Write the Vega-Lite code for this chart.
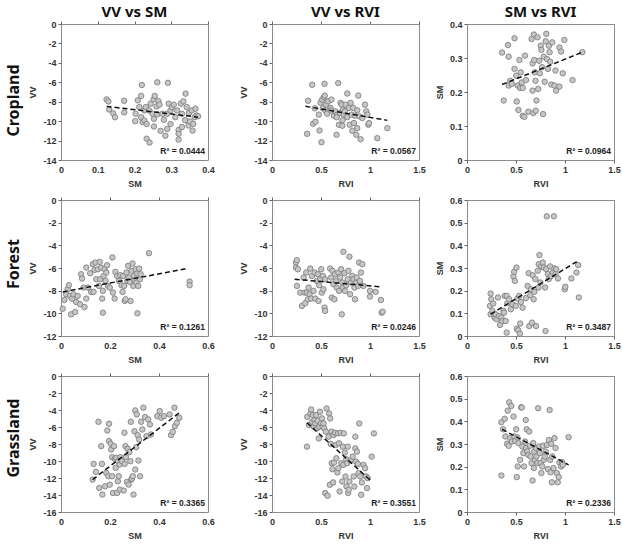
{
  "$schema": "https://vega.github.io/schema/vega-lite/v6.json",
  "background": "white",
  "padding": {"left": 6, "top": 4, "right": 2, "bottom": 1},
  "datasets": {
    "c_vs": [
      {"sm":0.124,"vv":-7.76},{"sm":0.129,"vv":-7.97},{"sm":0.131,"vv":-8.8},{"sm":0.142,"vv":-9.2},{"sm":0.147,"vv":-9.6},
      {"sm":0.172,"vv":-7.9},{"sm":0.172,"vv":-9.1},{"sm":0.202,"vv":-10.0},{"sm":0.203,"vv":-9.24},{"sm":0.209,"vv":-7.86},
      {"sm":0.213,"vv":-8.55},{"sm":0.218,"vv":-7.4},{"sm":0.22,"vv":-6.28},{"sm":0.218,"vv":-9.6},{"sm":0.222,"vv":-10.1},
      {"sm":0.227,"vv":-9.93},{"sm":0.227,"vv":-8.9},{"sm":0.231,"vv":-8.55},{"sm":0.233,"vv":-10.3},{"sm":0.233,"vv":-11.8},
      {"sm":0.241,"vv":-12.2},{"sm":0.24,"vv":-8.9},{"sm":0.244,"vv":-8.2},{"sm":0.249,"vv":-9.24},{"sm":0.252,"vv":-7.76},
      {"sm":0.253,"vv":-9.76},{"sm":0.253,"vv":-10.55},{"sm":0.255,"vv":-7.4},{"sm":0.26,"vv":-8.48},{"sm":0.262,"vv":-9.3},
      {"sm":0.265,"vv":-7.93},{"sm":0.262,"vv":-6.0},{"sm":0.268,"vv":-8.3},{"sm":0.271,"vv":-11.0},{"sm":0.276,"vv":-9.24},
      {"sm":0.28,"vv":-9.86},{"sm":0.289,"vv":-9.24},{"sm":0.291,"vv":-6.05},{"sm":0.284,"vv":-11.5},{"sm":0.289,"vv":-10.8},
      {"sm":0.293,"vv":-8.2},{"sm":0.298,"vv":-8.9},{"sm":0.298,"vv":-10.3},{"sm":0.302,"vv":-8.55},{"sm":0.307,"vv":-8.3},
      {"sm":0.311,"vv":-9.6},{"sm":0.316,"vv":-8.9},{"sm":0.32,"vv":-10.9},{"sm":0.32,"vv":-11.3},{"sm":0.32,"vv":-11.9},
      {"sm":0.326,"vv":-8.2},{"sm":0.329,"vv":-9.24},{"sm":0.329,"vv":-10.6},{"sm":0.333,"vv":-7.96},{"sm":0.338,"vv":-9.9},
      {"sm":0.339,"vv":-7.17},{"sm":0.342,"vv":-8.55},{"sm":0.347,"vv":-10.45},{"sm":0.348,"vv":-9.17},{"sm":0.351,"vv":-10.03},
      {"sm":0.356,"vv":-8.9},{"sm":0.358,"vv":-10.97},{"sm":0.36,"vv":-10.28},{"sm":0.364,"vv":-9.59},{"sm":0.369,"vv":-9.41},
      {"sm":0.366,"vv":-8.72},{"sm":0.373,"vv":-9.5}
    ],
    "c_vr": [
      {"rvi":0.358,"vv":-11.3},{"rvi":0.369,"vv":-7.9},{"rvi":0.41,"vv":-6.26},{"rvi":0.42,"vv":-10.27},{"rvi":0.444,"vv":-10.06},
      {"rvi":0.437,"vv":-8.68},{"rvi":0.478,"vv":-9.33},{"rvi":0.485,"vv":-10.96},{"rvi":0.495,"vv":-8.1},{"rvi":0.505,"vv":-12.17},
      {"rvi":0.512,"vv":-7.78},{"rvi":0.519,"vv":-8.68},{"rvi":0.529,"vv":-7.54},{"rvi":0.536,"vv":-6.15},{"rvi":0.539,"vv":-7.37},
      {"rvi":0.546,"vv":-8.92},{"rvi":0.553,"vv":-8.3},{"rvi":0.563,"vv":-9.23},{"rvi":0.573,"vv":-7.96},{"rvi":0.597,"vv":-8.64},
      {"rvi":0.607,"vv":-7.78},{"rvi":0.631,"vv":-9.44},{"rvi":0.648,"vv":-8.99},{"rvi":0.659,"vv":-11.4},{"rvi":0.666,"vv":-9.33},
      {"rvi":0.676,"vv":-6.08},{"rvi":0.683,"vv":-10.37},{"rvi":0.693,"vv":-9.16},{"rvi":0.7,"vv":-8.12},{"rvi":0.71,"vv":-8.3},
      {"rvi":0.717,"vv":-10.47},{"rvi":0.724,"vv":-8.81},{"rvi":0.734,"vv":-9.33},{"rvi":0.744,"vv":-8.99},{"rvi":0.751,"vv":-8.3},
      {"rvi":0.768,"vv":-9.58},{"rvi":0.768,"vv":-7.16},{"rvi":0.785,"vv":-8.64},{"rvi":0.792,"vv":-10.37},{"rvi":0.802,"vv":-8.12},
      {"rvi":0.812,"vv":-9.33},{"rvi":0.819,"vv":-10.99},{"rvi":0.829,"vv":-8.64},{"rvi":0.836,"vv":-10.2},{"rvi":0.846,"vv":-9.44},
      {"rvi":0.86,"vv":-11.4},{"rvi":0.87,"vv":-8.88},{"rvi":0.87,"vv":-10.72},{"rvi":0.88,"vv":-7.37},{"rvi":0.894,"vv":-9.51},
      {"rvi":0.904,"vv":-11.86},{"rvi":0.922,"vv":-9.68},{"rvi":0.949,"vv":-8.3},{"rvi":0.962,"vv":-8.99},{"rvi":0.973,"vv":-9.33},
      {"rvi":0.983,"vv":-10.37},{"rvi":0.99,"vv":-10.2},{"rvi":1.075,"vv":-11.75},{"rvi":1.177,"vv":-10.72},{"rvi":0.66,"vv":-9.6},
      {"rvi":0.72,"vv":-9.9},{"rvi":0.6,"vv":-8.9}
    ],
    "c_sr": [
      {"rvi":0.358,"sm":0.316},{"rvi":0.375,"sm":0.175},{"rvi":0.425,"sm":0.304},{"rvi":0.418,"sm":0.338},{"rvi":0.441,"sm":0.233},
      {"rvi":0.425,"sm":0.219},{"rvi":0.458,"sm":0.224},{"rvi":0.485,"sm":0.358},{"rvi":0.485,"sm":0.268},{"rvi":0.502,"sm":0.248},
      {"rvi":0.508,"sm":0.172},{"rvi":0.518,"sm":0.219},{"rvi":0.525,"sm":0.147},{"rvi":0.535,"sm":0.294},{"rvi":0.542,"sm":0.212},
      {"rvi":0.548,"sm":0.258},{"rvi":0.559,"sm":0.228},{"rvi":0.569,"sm":0.212},{"rvi":0.569,"sm":0.13},{"rvi":0.585,"sm":0.127},
      {"rvi":0.592,"sm":0.307},{"rvi":0.602,"sm":0.235},{"rvi":0.625,"sm":0.142},{"rvi":0.659,"sm":0.356},{"rvi":0.669,"sm":0.204},
      {"rvi":0.669,"sm":0.284},{"rvi":0.676,"sm":0.138},{"rvi":0.682,"sm":0.369},{"rvi":0.686,"sm":0.294},{"rvi":0.692,"sm":0.258},
      {"rvi":0.699,"sm":0.233},{"rvi":0.702,"sm":0.145},{"rvi":0.709,"sm":0.175},{"rvi":0.719,"sm":0.361},{"rvi":0.726,"sm":0.209},
      {"rvi":0.736,"sm":0.292},{"rvi":0.742,"sm":0.255},{"rvi":0.752,"sm":0.336},{"rvi":0.759,"sm":0.324},{"rvi":0.766,"sm":0.273},
      {"rvi":0.776,"sm":0.135},{"rvi":0.783,"sm":0.304},{"rvi":0.793,"sm":0.23},{"rvi":0.803,"sm":0.349},{"rvi":0.809,"sm":0.371},
      {"rvi":0.816,"sm":0.297},{"rvi":0.826,"sm":0.268},{"rvi":0.836,"sm":0.336},{"rvi":0.843,"sm":0.317},{"rvi":0.849,"sm":0.289},
      {"rvi":0.86,"sm":0.222},{"rvi":0.87,"sm":0.346},{"rvi":0.893,"sm":0.219},{"rvi":0.903,"sm":0.263},{"rvi":0.91,"sm":0.204},
      {"rvi":0.943,"sm":0.216},{"rvi":0.943,"sm":0.331},{"rvi":0.96,"sm":0.319},{"rvi":0.977,"sm":0.255},{"rvi":0.993,"sm":0.353},
      {"rvi":1.077,"sm":0.235},{"rvi":1.177,"sm":0.317}
    ],
    "f_vs": [
      {"sm":0.007,"vv":-9.59},{"sm":0.014,"vv":-8.82},{"sm":0.021,"vv":-8.32},{"sm":0.027,"vv":-7.88},{"sm":0.032,"vv":-7.52},
      {"sm":0.037,"vv":-8.47},{"sm":0.041,"vv":-10.09},{"sm":0.045,"vv":-8.7},{"sm":0.051,"vv":-8.32},{"sm":0.058,"vv":-9.88},
      {"sm":0.062,"vv":-9.0},{"sm":0.068,"vv":-8.47},{"sm":0.078,"vv":-9.2},{"sm":0.082,"vv":-6.55},{"sm":0.086,"vv":-6.93},
      {"sm":0.092,"vv":-7.73},{"sm":0.096,"vv":-9.44},{"sm":0.103,"vv":-8.7},{"sm":0.103,"vv":-5.96},{"sm":0.11,"vv":-7.73},
      {"sm":0.119,"vv":-6.46},{"sm":0.123,"vv":-8.11},{"sm":0.13,"vv":-5.66},{"sm":0.133,"vv":-8.11},{"sm":0.137,"vv":-6.17},
      {"sm":0.141,"vv":-5.52},{"sm":0.144,"vv":-6.99},{"sm":0.151,"vv":-6.11},{"sm":0.155,"vv":-7.58},{"sm":0.158,"vv":-5.46},
      {"sm":0.16,"vv":-6.99},{"sm":0.164,"vv":-5.96},{"sm":0.168,"vv":-8.7},{"sm":0.171,"vv":-8.02},{"sm":0.171,"vv":-9.94},
      {"sm":0.174,"vv":-6.7},{"sm":0.178,"vv":-6.11},{"sm":0.182,"vv":-7.14},{"sm":0.185,"vv":-6.4},{"sm":0.188,"vv":-5.75},
      {"sm":0.192,"vv":-7.58},{"sm":0.199,"vv":-7.73},{"sm":0.21,"vv":-5.07},{"sm":0.212,"vv":-8.17},{"sm":0.219,"vv":-8.7},
      {"sm":0.222,"vv":-6.34},{"sm":0.229,"vv":-6.7},{"sm":0.237,"vv":-7.14},{"sm":0.242,"vv":-6.64},{"sm":0.247,"vv":-7.52},
      {"sm":0.251,"vv":-8.11},{"sm":0.253,"vv":-6.7},{"sm":0.258,"vv":-7.58},{"sm":0.26,"vv":-8.91},{"sm":0.264,"vv":-8.76},
      {"sm":0.267,"vv":-6.4},{"sm":0.271,"vv":-7.14},{"sm":0.274,"vv":-5.81},{"sm":0.278,"vv":-6.84},{"sm":0.281,"vv":-7.23},
      {"sm":0.284,"vv":-8.91},{"sm":0.288,"vv":-6.25},{"sm":0.292,"vv":-5.6},{"sm":0.295,"vv":-7.58},{"sm":0.297,"vv":-6.7},
      {"sm":0.301,"vv":-7.05},{"sm":0.305,"vv":-6.11},{"sm":0.308,"vv":-7.29},{"sm":0.311,"vv":-6.49},{"sm":0.312,"vv":-10.0},
      {"sm":0.315,"vv":-7.58},{"sm":0.319,"vv":-6.05},{"sm":0.322,"vv":-6.99},{"sm":0.325,"vv":-6.55},{"sm":0.359,"vv":-4.69},
      {"sm":0.525,"vv":-7.2},{"sm":0.525,"vv":-7.52}
    ],
    "f_vr": [
      {"rvi":0.244,"vv":-5.52},{"rvi":0.254,"vv":-5.31},{"rvi":0.244,"vv":-5.96},{"rvi":0.264,"vv":-6.11},{"rvi":0.254,"vv":-7.58},
      {"rvi":0.288,"vv":-8.17},{"rvi":0.305,"vv":-9.35},{"rvi":0.322,"vv":-6.84},{"rvi":0.332,"vv":-8.17},{"rvi":0.339,"vv":-9.11},
      {"rvi":0.349,"vv":-6.4},{"rvi":0.356,"vv":-8.17},{"rvi":0.366,"vv":-8.76},{"rvi":0.373,"vv":-7.73},{"rvi":0.383,"vv":-8.32},
      {"rvi":0.39,"vv":-6.05},{"rvi":0.4,"vv":-8.7},{"rvi":0.407,"vv":-6.7},{"rvi":0.424,"vv":-8.02},{"rvi":0.434,"vv":-6.4},
      {"rvi":0.441,"vv":-8.7},{"rvi":0.458,"vv":-7.14},{"rvi":0.468,"vv":-6.55},{"rvi":0.475,"vv":-8.91},{"rvi":0.481,"vv":-7.52},
      {"rvi":0.492,"vv":-6.99},{"rvi":0.502,"vv":-6.11},{"rvi":0.508,"vv":-8.17},{"rvi":0.519,"vv":-6.7},{"rvi":0.525,"vv":-7.88},
      {"rvi":0.536,"vv":-9.5},{"rvi":0.542,"vv":-9.79},{"rvi":0.542,"vv":-6.99},{"rvi":0.593,"vv":-6.05},{"rvi":0.603,"vv":-6.84},
      {"rvi":0.61,"vv":-8.61},{"rvi":0.617,"vv":-6.25},{"rvi":0.627,"vv":-7.43},{"rvi":0.637,"vv":-8.76},{"rvi":0.644,"vv":-6.55},
      {"rvi":0.654,"vv":-7.14},{"rvi":0.661,"vv":-7.73},{"rvi":0.678,"vv":-6.4},{"rvi":0.685,"vv":-8.02},{"rvi":0.695,"vv":-6.84},
      {"rvi":0.705,"vv":-6.11},{"rvi":0.712,"vv":-10.09},{"rvi":0.719,"vv":-7.29},{"rvi":0.722,"vv":-7.73},{"rvi":0.729,"vv":-4.57},
      {"rvi":0.739,"vv":-6.46},{"rvi":0.746,"vv":-8.02},{"rvi":0.756,"vv":-7.52},{"rvi":0.773,"vv":-6.99},{"rvi":0.78,"vv":-6.25},
      {"rvi":0.79,"vv":-5.0},{"rvi":0.797,"vv":-8.32},{"rvi":0.807,"vv":-7.29},{"rvi":0.82,"vv":-6.7},{"rvi":0.831,"vv":-6.99},
      {"rvi":0.841,"vv":-7.73},{"rvi":0.847,"vv":-8.76},{"rvi":0.858,"vv":-7.29},{"rvi":0.864,"vv":-6.84},{"rvi":0.881,"vv":-7.58},
      {"rvi":0.888,"vv":-5.52},{"rvi":0.898,"vv":-7.14},{"rvi":0.908,"vv":-6.4},{"rvi":0.922,"vv":-5.66},{"rvi":0.932,"vv":-7.58},
      {"rvi":1.0,"vv":-8.52},{"rvi":1.0,"vv":-8.02},{"rvi":1.058,"vv":-8.11},{"rvi":1.112,"vv":-8.82},{"rvi":1.119,"vv":-9.94},
      {"rvi":1.129,"vv":-9.85}
    ],
    "f_sr": [
      {"rvi":0.241,"sm":0.187},{"rvi":0.234,"sm":0.133},{"rvi":0.241,"sm":0.096},{"rvi":0.247,"sm":0.162},{"rvi":0.258,"sm":0.111},
      {"rvi":0.268,"sm":0.143},{"rvi":0.282,"sm":0.081},{"rvi":0.292,"sm":0.096},{"rvi":0.302,"sm":0.074},{"rvi":0.316,"sm":0.17},
      {"rvi":0.326,"sm":0.088},{"rvi":0.337,"sm":0.049},{"rvi":0.351,"sm":0.081},{"rvi":0.361,"sm":0.066},{"rvi":0.371,"sm":0.111},
      {"rvi":0.378,"sm":0.103},{"rvi":0.385,"sm":0.177},{"rvi":0.395,"sm":0.066},{"rvi":0.405,"sm":0.015},{"rvi":0.405,"sm":0.177},
      {"rvi":0.412,"sm":0.145},{"rvi":0.43,"sm":0.162},{"rvi":0.447,"sm":0.118},{"rvi":0.464,"sm":0.14},{"rvi":0.474,"sm":0.263},
      {"rvi":0.481,"sm":0.283},{"rvi":0.488,"sm":0.243},{"rvi":0.498,"sm":0.133},{"rvi":0.505,"sm":0.302},{"rvi":0.509,"sm":0.032},
      {"rvi":0.515,"sm":0.165},{"rvi":0.522,"sm":0.025},{"rvi":0.533,"sm":0.177},{"rvi":0.54,"sm":0.01},{"rvi":0.543,"sm":0.055},
      {"rvi":0.55,"sm":0.15},{"rvi":0.567,"sm":0.125},{"rvi":0.601,"sm":0.167},{"rvi":0.619,"sm":0.221},{"rvi":0.629,"sm":0.277},
      {"rvi":0.636,"sm":0.044},{"rvi":0.646,"sm":0.18},{"rvi":0.653,"sm":0.206},{"rvi":0.663,"sm":0.059},{"rvi":0.67,"sm":0.268},
      {"rvi":0.68,"sm":0.162},{"rvi":0.687,"sm":0.195},{"rvi":0.698,"sm":0.251},{"rvi":0.704,"sm":0.044},{"rvi":0.722,"sm":0.288},
      {"rvi":0.729,"sm":0.214},{"rvi":0.732,"sm":0.317},{"rvi":0.739,"sm":0.357},{"rvi":0.749,"sm":0.236},{"rvi":0.756,"sm":0.307},
      {"rvi":0.773,"sm":0.324},{"rvi":0.784,"sm":0.302},{"rvi":0.797,"sm":0.214},{"rvi":0.801,"sm":0.022},{"rvi":0.808,"sm":0.295},
      {"rvi":0.814,"sm":0.528},{"rvi":0.825,"sm":0.273},{"rvi":0.835,"sm":0.251},{"rvi":0.849,"sm":0.307},{"rvi":0.859,"sm":0.265},
      {"rvi":0.876,"sm":0.28},{"rvi":0.887,"sm":0.528},{"rvi":0.893,"sm":0.298},{"rvi":0.904,"sm":0.273},{"rvi":0.911,"sm":0.295},
      {"rvi":0.928,"sm":0.254},{"rvi":0.997,"sm":0.206},{"rvi":1.003,"sm":0.217},{"rvi":1.065,"sm":0.254},{"rvi":1.117,"sm":0.28},
      {"rvi":1.134,"sm":0.313},{"rvi":1.141,"sm":0.17}
    ],
    "g_vs": [
      {"sm":0.129,"vv":-12.19},{"sm":0.133,"vv":-10.34},{"sm":0.143,"vv":-11.28},{"sm":0.153,"vv":-5.39},{"sm":0.156,"vv":-13.17},
      {"sm":0.164,"vv":-8.25},{"sm":0.167,"vv":-10.34},{"sm":0.169,"vv":-13.95},{"sm":0.18,"vv":-12.97},{"sm":0.185,"vv":-11.4},
      {"sm":0.189,"vv":-6.41},{"sm":0.193,"vv":-11.79},{"sm":0.196,"vv":-5.62},{"sm":0.196,"vv":-7.66},{"sm":0.199,"vv":-12.78},
      {"sm":0.203,"vv":-7.98},{"sm":0.205,"vv":-8.65},{"sm":0.209,"vv":-9.55},{"sm":0.209,"vv":-11.79},{"sm":0.212,"vv":-13.76},
      {"sm":0.216,"vv":-8.25},{"sm":0.22,"vv":-9.75},{"sm":0.223,"vv":-10.81},{"sm":0.225,"vv":-9.63},{"sm":0.229,"vv":-13.76},
      {"sm":0.232,"vv":-12.38},{"sm":0.233,"vv":-10.02},{"sm":0.236,"vv":-11.79},{"sm":0.239,"vv":-10.42},{"sm":0.24,"vv":-13.36},
      {"sm":0.243,"vv":-9.55},{"sm":0.249,"vv":-10.02},{"sm":0.256,"vv":-13.48},{"sm":0.259,"vv":-6.68},{"sm":0.26,"vv":-10.34},
      {"sm":0.263,"vv":-8.25},{"sm":0.265,"vv":-9.55},{"sm":0.269,"vv":-12.46},{"sm":0.272,"vv":-8.57},{"sm":0.276,"vv":-12.78},
      {"sm":0.279,"vv":-8.96},{"sm":0.283,"vv":-10.02},{"sm":0.285,"vv":-5.39},{"sm":0.287,"vv":-12.19},{"sm":0.289,"vv":-12.07},
      {"sm":0.293,"vv":-11.79},{"sm":0.296,"vv":-13.95},{"sm":0.3,"vv":-6.49},{"sm":0.303,"vv":-11.0},{"sm":0.303,"vv":-4.05},
      {"sm":0.307,"vv":-8.37},{"sm":0.309,"vv":-4.52},{"sm":0.313,"vv":-6.96},{"sm":0.316,"vv":-9.94},{"sm":0.319,"vv":-7.47},
      {"sm":0.323,"vv":-11.79},{"sm":0.327,"vv":-5.39},{"sm":0.332,"vv":-6.29},{"sm":0.336,"vv":-3.73},{"sm":0.343,"vv":-4.83},
      {"sm":0.349,"vv":-7.08},{"sm":0.356,"vv":-5.11},{"sm":0.363,"vv":-5.7},{"sm":0.367,"vv":-6.88},{"sm":0.393,"vv":-4.72},
      {"sm":0.403,"vv":-4.13},{"sm":0.409,"vv":-4.91},{"sm":0.42,"vv":-4.72},{"sm":0.443,"vv":-4.52},{"sm":0.449,"vv":-6.96},
      {"sm":0.456,"vv":-6.56},{"sm":0.463,"vv":-3.73},{"sm":0.465,"vv":-5.9},{"sm":0.473,"vv":-5.5},{"sm":0.483,"vv":-4.91}
    ],
    "g_vr": [
      {"rvi":0.357,"vv":-8.31},{"rvi":0.36,"vv":-4.8},{"rvi":0.377,"vv":-5.77},{"rvi":0.393,"vv":-4.41},{"rvi":0.4,"vv":-3.94},
      {"rvi":0.41,"vv":-5.38},{"rvi":0.417,"vv":-4.6},{"rvi":0.427,"vv":-5.97},{"rvi":0.433,"vv":-5.19},{"rvi":0.443,"vv":-5.58},
      {"rvi":0.45,"vv":-4.6},{"rvi":0.46,"vv":-6.16},{"rvi":0.467,"vv":-5.27},{"rvi":0.477,"vv":-7.34},{"rvi":0.483,"vv":-5.97},
      {"rvi":0.49,"vv":-4.21},{"rvi":0.5,"vv":-5.58},{"rvi":0.51,"vv":-4.99},{"rvi":0.517,"vv":-5.97},{"rvi":0.527,"vv":-5.58},
      {"rvi":0.533,"vv":-6.16},{"rvi":0.543,"vv":-13.77},{"rvi":0.55,"vv":-6.55},{"rvi":0.557,"vv":-3.82},{"rvi":0.567,"vv":-14.09},
      {"rvi":0.577,"vv":-7.14},{"rvi":0.583,"vv":-4.41},{"rvi":0.59,"vv":-12.8},{"rvi":0.593,"vv":-4.99},{"rvi":0.6,"vv":-8.0},
      {"rvi":0.607,"vv":-6.55},{"rvi":0.61,"vv":-10.26},{"rvi":0.617,"vv":-10.96},{"rvi":0.623,"vv":-12.52},{"rvi":0.627,"vv":-6.95},
      {"rvi":0.633,"vv":-10.18},{"rvi":0.643,"vv":-6.67},{"rvi":0.65,"vv":-8.12},{"rvi":0.657,"vv":-9.68},{"rvi":0.667,"vv":-11.35},
      {"rvi":0.673,"vv":-6.75},{"rvi":0.677,"vv":-10.85},{"rvi":0.683,"vv":-7.92},{"rvi":0.69,"vv":-13.58},{"rvi":0.7,"vv":-6.67},
      {"rvi":0.707,"vv":-10.26},{"rvi":0.717,"vv":-12.41},{"rvi":0.723,"vv":-8.31},{"rvi":0.727,"vv":-10.46},{"rvi":0.733,"vv":-6.75},
      {"rvi":0.743,"vv":-9.01},{"rvi":0.75,"vv":-11.82},{"rvi":0.757,"vv":-9.79},{"rvi":0.76,"vv":-12.99},{"rvi":0.767,"vv":-10.26},
      {"rvi":0.773,"vv":-8.31},{"rvi":0.777,"vv":-13.77},{"rvi":0.783,"vv":-13.38},{"rvi":0.79,"vv":-12.41},{"rvi":0.8,"vv":-9.95},
      {"rvi":0.823,"vv":-9.48},{"rvi":0.833,"vv":-11.82},{"rvi":0.84,"vv":-13.0},{"rvi":0.85,"vv":-7.14},{"rvi":0.85,"vv":-8.51},
      {"rvi":0.857,"vv":-10.07},{"rvi":0.867,"vv":-8.9},{"rvi":0.877,"vv":-10.34},{"rvi":0.883,"vv":-11.43},{"rvi":0.89,"vv":-5.58},
      {"rvi":0.9,"vv":-11.82},{"rvi":0.91,"vv":-13.97},{"rvi":0.917,"vv":-12.52},{"rvi":0.933,"vv":-10.46},{"rvi":0.95,"vv":-10.85},
      {"rvi":0.96,"vv":-11.82},{"rvi":0.97,"vv":-13.19},{"rvi":0.977,"vv":-12.02},{"rvi":1.017,"vv":-9.48},{"rvi":1.04,"vv":-6.75}
    ],
    "g_sr": [
      {"rvi":0.351,"sm":0.161},{"rvi":0.351,"sm":0.396},{"rvi":0.368,"sm":0.365},{"rvi":0.385,"sm":0.411},{"rvi":0.391,"sm":0.333},
      {"rvi":0.408,"sm":0.301},{"rvi":0.415,"sm":0.447},{"rvi":0.425,"sm":0.292},{"rvi":0.431,"sm":0.484},{"rvi":0.441,"sm":0.326},
      {"rvi":0.452,"sm":0.468},{"rvi":0.458,"sm":0.311},{"rvi":0.475,"sm":0.421},{"rvi":0.482,"sm":0.333},{"rvi":0.492,"sm":0.314},
      {"rvi":0.502,"sm":0.365},{"rvi":0.508,"sm":0.154},{"rvi":0.515,"sm":0.329},{"rvi":0.518,"sm":0.201},{"rvi":0.525,"sm":0.304},
      {"rvi":0.542,"sm":0.23},{"rvi":0.552,"sm":0.462},{"rvi":0.559,"sm":0.461},{"rvi":0.565,"sm":0.289},{"rvi":0.575,"sm":0.26},
      {"rvi":0.582,"sm":0.201},{"rvi":0.592,"sm":0.311},{"rvi":0.599,"sm":0.406},{"rvi":0.602,"sm":0.282},{"rvi":0.609,"sm":0.365},
      {"rvi":0.615,"sm":0.267},{"rvi":0.625,"sm":0.252},{"rvi":0.635,"sm":0.355},{"rvi":0.642,"sm":0.292},{"rvi":0.649,"sm":0.245},
      {"rvi":0.659,"sm":0.216},{"rvi":0.669,"sm":0.139},{"rvi":0.676,"sm":0.304},{"rvi":0.682,"sm":0.194},{"rvi":0.686,"sm":0.267},
      {"rvi":0.692,"sm":0.23},{"rvi":0.702,"sm":0.282},{"rvi":0.709,"sm":0.245},{"rvi":0.719,"sm":0.216},{"rvi":0.726,"sm":0.458},
      {"rvi":0.736,"sm":0.289},{"rvi":0.742,"sm":0.26},{"rvi":0.752,"sm":0.216},{"rvi":0.759,"sm":0.172},{"rvi":0.769,"sm":0.201},
      {"rvi":0.776,"sm":0.292},{"rvi":0.783,"sm":0.23},{"rvi":0.793,"sm":0.245},{"rvi":0.803,"sm":0.267},{"rvi":0.816,"sm":0.296},
      {"rvi":0.826,"sm":0.189},{"rvi":0.836,"sm":0.318},{"rvi":0.843,"sm":0.45},{"rvi":0.849,"sm":0.23},{"rvi":0.853,"sm":0.175},
      {"rvi":0.86,"sm":0.301},{"rvi":0.866,"sm":0.131},{"rvi":0.87,"sm":0.245},{"rvi":0.883,"sm":0.194},{"rvi":0.893,"sm":0.326},
      {"rvi":0.903,"sm":0.282},{"rvi":0.916,"sm":0.172},{"rvi":0.926,"sm":0.131},{"rvi":0.936,"sm":0.154},{"rvi":0.943,"sm":0.219},
      {"rvi":0.96,"sm":0.201},{"rvi":0.97,"sm":0.22},{"rvi":0.977,"sm":0.208},{"rvi":1.037,"sm":0.33}
    ],
    "trends": [
      {"panel":"c_vs","x":0.124,"y":-8.48},{"panel":"c_vs","x":0.373,"y":-9.59},
      {"panel":"c_vr","x":0.341,"y":-8.47},{"panel":"c_vr","x":1.177,"y":-9.92},
      {"panel":"c_sr","x":0.358,"y":0.222},{"panel":"c_sr","x":1.177,"y":0.317},
      {"panel":"f_vs","x":0.007,"y":-8.11},{"panel":"f_vs","x":0.514,"y":-6.05},
      {"panel":"f_vr","x":0.231,"y":-6.99},{"panel":"f_vr","x":1.119,"y":-7.67},
      {"panel":"f_sr","x":0.241,"y":0.096},{"panel":"f_sr","x":1.134,"y":0.332},
      {"panel":"g_vs","x":0.129,"y":-12.19},{"panel":"g_vs","x":0.483,"y":-4.32},
      {"panel":"g_vr","x":0.357,"y":-5.5},{"panel":"g_vr","x":1.017,"y":-12.41},
      {"panel":"g_sr","x":0.358,"y":0.365},{"panel":"g_sr","x":1.037,"y":0.208}
    ]
  },
  "spacing": 6,
  "vconcat": [
    {
      "title": {"text": "Cropland", "orient": "left", "anchor": "middle", "fontSize": 16, "offset": 6, "dx": -4},
      "spacing": 8,
      "hconcat": [
        {
          "spacing": 24,
          "hconcat": [
            {
              "width": 147, "height": 136,
              "title": {"text": "VV vs SM", "offset": 0},
              "resolve": {"axis": {"x": "independent", "y": "independent"}},
              "layer": [
                {"data": {"name": "c_vs"}, "mark": {"type": "point", "filled": true, "shape": "circle", "size": 30, "fill": "#c6c6c6", "stroke": "#777777", "strokeWidth": 0.8, "opacity": 1},
                 "encoding": {
                   "x": {"field": "sm", "type": "quantitative", "scale": {"domain": [0, 0.4], "nice": false}, "axis": {"orient": "bottom", "title": "SM", "values": [0, 0.1, 0.2, 0.3, 0.4], "format": "~f", "tickSize": 0, "labelPadding": 5}},
                   "y": {"field": "vv", "type": "quantitative", "scale": {"domain": [-14, 0], "nice": false}, "axis": {"orient": "left", "title": "VV", "values": [-14, -12, -10, -8, -6, -4, -2, 0], "format": "~f"}}}},
                {"data": {"values": [{}]}, "mark": {"type": "text", "text": "R² = 0.0444", "align": "right", "baseline": "bottom", "dx": -3, "dy": -4, "fontSize": 8.5, "fontWeight": "bold", "color": "#222222"},
                 "encoding": {"x": {"datum": 0.4, "type": "quantitative", "axis": null}, "y": {"datum": -14, "type": "quantitative", "axis": null}}},
                {"data": {"name": "trends"}, "transform": [{"filter": "datum.panel === 'c_vs'"}], "mark": {"type": "line", "color": "#111111", "strokeWidth": 1.5, "strokeDash": [5, 3]},
                 "encoding": {
                   "x": {"field": "x", "type": "quantitative", "axis": {"orient": "top", "labels": false, "title": null, "tickSize": 3, "values": [0, 0.1, 0.2, 0.3, 0.4]}},
                   "y": {"field": "y", "type": "quantitative", "axis": null}}}
              ]
            },
            {
              "width": 147, "height": 136,
              "title": {"text": "VV vs RVI", "offset": 0},
              "resolve": {"axis": {"x": "independent", "y": "independent"}},
              "layer": [
                {"data": {"name": "c_vr"}, "mark": {"type": "point", "filled": true, "shape": "circle", "size": 30, "fill": "#c6c6c6", "stroke": "#777777", "strokeWidth": 0.8, "opacity": 1},
                 "encoding": {
                   "x": {"field": "rvi", "type": "quantitative", "scale": {"domain": [0, 1.5], "nice": false}, "axis": {"orient": "bottom", "title": "RVI", "values": [0, 0.5, 1, 1.5], "format": "~f", "tickSize": 0, "labelPadding": 5}},
                   "y": {"field": "vv", "type": "quantitative", "scale": {"domain": [-14, 0], "nice": false}, "axis": {"orient": "left", "title": "VV", "values": [-14, -12, -10, -8, -6, -4, -2, 0], "format": "~f"}}}},
                {"data": {"values": [{}]}, "mark": {"type": "text", "text": "R² = 0.0567", "align": "right", "baseline": "bottom", "dx": -3, "dy": -4, "fontSize": 8.5, "fontWeight": "bold", "color": "#222222"},
                 "encoding": {"x": {"datum": 1.5, "type": "quantitative", "axis": null}, "y": {"datum": -14, "type": "quantitative", "axis": null}}},
                {"data": {"name": "trends"}, "transform": [{"filter": "datum.panel === 'c_vr'"}], "mark": {"type": "line", "color": "#111111", "strokeWidth": 1.5, "strokeDash": [5, 3]},
                 "encoding": {
                   "x": {"field": "x", "type": "quantitative", "axis": {"orient": "top", "labels": false, "title": null, "tickSize": 3, "values": [0, 0.5, 1, 1.5]}},
                   "y": {"field": "y", "type": "quantitative", "axis": null}}}
              ]
            }
          ]
        },
        {
          "width": 147, "height": 136,
          "title": {"text": "SM vs RVI", "offset": 0},
          "resolve": {"axis": {"x": "independent", "y": "independent"}},
          "layer": [
            {"data": {"name": "c_sr"}, "mark": {"type": "point", "filled": true, "shape": "circle", "size": 30, "fill": "#c6c6c6", "stroke": "#777777", "strokeWidth": 0.8, "opacity": 1},
             "encoding": {
               "x": {"field": "rvi", "type": "quantitative", "scale": {"domain": [0, 1.5], "nice": false}, "axis": {"orient": "bottom", "title": "RVI", "values": [0, 0.5, 1, 1.5], "format": "~f"}},
               "y": {"field": "sm", "type": "quantitative", "scale": {"domain": [0, 0.4], "nice": false}, "axis": {"orient": "left", "title": "SM", "values": [0, 0.1, 0.2, 0.3, 0.4], "format": "~f"}}}},
            {"data": {"values": [{}]}, "mark": {"type": "text", "text": "R² = 0.0964", "align": "right", "baseline": "bottom", "dx": -3, "dy": -4, "fontSize": 8.5, "fontWeight": "bold", "color": "#222222"},
             "encoding": {"x": {"datum": 1.5, "type": "quantitative", "axis": null}, "y": {"datum": 0, "type": "quantitative", "axis": null}}},
            {"data": {"name": "trends"}, "transform": [{"filter": "datum.panel === 'c_sr'"}], "mark": {"type": "line", "color": "#111111", "strokeWidth": 1.5, "strokeDash": [5, 3]},
             "encoding": {
               "x": {"field": "x", "type": "quantitative", "axis": null},
               "y": {"field": "y", "type": "quantitative", "axis": null}}}
          ]
        }
      ]
    },
    {
      "title": {"text": "Forest", "orient": "left", "anchor": "middle", "fontSize": 16, "offset": 6, "dx": 16},
      "spacing": 8,
      "hconcat": [
        {
          "spacing": 24,
          "hconcat": [
            {
              "width": 147, "height": 136,
              "resolve": {"axis": {"x": "independent", "y": "independent"}},
              "layer": [
                {"data": {"name": "f_vs"}, "mark": {"type": "point", "filled": true, "shape": "circle", "size": 30, "fill": "#c6c6c6", "stroke": "#777777", "strokeWidth": 0.8, "opacity": 1},
                 "encoding": {
                   "x": {"field": "sm", "type": "quantitative", "scale": {"domain": [0, 0.6], "nice": false}, "axis": {"orient": "bottom", "title": "SM", "values": [0, 0.2, 0.4, 0.6], "format": "~f", "tickSize": 0, "labelPadding": 5}},
                   "y": {"field": "vv", "type": "quantitative", "scale": {"domain": [-12, 0], "nice": false}, "axis": {"orient": "left", "title": "VV", "values": [-12, -10, -8, -6, -4, -2, 0], "format": "~f"}}}},
                {"data": {"values": [{}]}, "mark": {"type": "text", "text": "R² = 0.1261", "align": "right", "baseline": "bottom", "dx": -3, "dy": -4, "fontSize": 8.5, "fontWeight": "bold", "color": "#222222"},
                 "encoding": {"x": {"datum": 0.6, "type": "quantitative", "axis": null}, "y": {"datum": -12, "type": "quantitative", "axis": null}}},
                {"data": {"name": "trends"}, "transform": [{"filter": "datum.panel === 'f_vs'"}], "mark": {"type": "line", "color": "#111111", "strokeWidth": 1.5, "strokeDash": [5, 3]},
                 "encoding": {
                   "x": {"field": "x", "type": "quantitative", "axis": {"orient": "top", "labels": false, "title": null, "tickSize": 3, "values": [0, 0.2, 0.4, 0.6]}},
                   "y": {"field": "y", "type": "quantitative", "axis": null}}}
              ]
            },
            {
              "width": 147, "height": 136,
              "resolve": {"axis": {"x": "independent", "y": "independent"}},
              "layer": [
                {"data": {"name": "f_vr"}, "mark": {"type": "point", "filled": true, "shape": "circle", "size": 30, "fill": "#c6c6c6", "stroke": "#777777", "strokeWidth": 0.8, "opacity": 1},
                 "encoding": {
                   "x": {"field": "rvi", "type": "quantitative", "scale": {"domain": [0, 1.5], "nice": false}, "axis": {"orient": "bottom", "title": "RVI", "values": [0, 0.5, 1, 1.5], "format": "~f", "tickSize": 0, "labelPadding": 5}},
                   "y": {"field": "vv", "type": "quantitative", "scale": {"domain": [-12, 0], "nice": false}, "axis": {"orient": "left", "title": "VV", "values": [-12, -10, -8, -6, -4, -2, 0], "format": "~f"}}}},
                {"data": {"values": [{}]}, "mark": {"type": "text", "text": "R² = 0.0246", "align": "right", "baseline": "bottom", "dx": -3, "dy": -4, "fontSize": 8.5, "fontWeight": "bold", "color": "#222222"},
                 "encoding": {"x": {"datum": 1.5, "type": "quantitative", "axis": null}, "y": {"datum": -12, "type": "quantitative", "axis": null}}},
                {"data": {"name": "trends"}, "transform": [{"filter": "datum.panel === 'f_vr'"}], "mark": {"type": "line", "color": "#111111", "strokeWidth": 1.5, "strokeDash": [5, 3]},
                 "encoding": {
                   "x": {"field": "x", "type": "quantitative", "axis": {"orient": "top", "labels": false, "title": null, "tickSize": 3, "values": [0, 0.5, 1, 1.5]}},
                   "y": {"field": "y", "type": "quantitative", "axis": null}}}
              ]
            }
          ]
        },
        {
          "width": 147, "height": 136,
          "resolve": {"axis": {"x": "independent", "y": "independent"}},
          "layer": [
            {"data": {"name": "f_sr"}, "mark": {"type": "point", "filled": true, "shape": "circle", "size": 30, "fill": "#c6c6c6", "stroke": "#777777", "strokeWidth": 0.8, "opacity": 1},
             "encoding": {
               "x": {"field": "rvi", "type": "quantitative", "scale": {"domain": [0, 1.5], "nice": false}, "axis": {"orient": "bottom", "title": "RVI", "values": [0, 0.5, 1, 1.5], "format": "~f"}},
               "y": {"field": "sm", "type": "quantitative", "scale": {"domain": [0, 0.6], "nice": false}, "axis": {"orient": "left", "title": "SM", "values": [0, 0.1, 0.2, 0.3, 0.4, 0.5, 0.6], "format": "~f"}}}},
            {"data": {"values": [{}]}, "mark": {"type": "text", "text": "R² = 0.3487", "align": "right", "baseline": "bottom", "dx": -3, "dy": -4, "fontSize": 8.5, "fontWeight": "bold", "color": "#222222"},
             "encoding": {"x": {"datum": 1.5, "type": "quantitative", "axis": null}, "y": {"datum": 0, "type": "quantitative", "axis": null}}},
            {"data": {"name": "trends"}, "transform": [{"filter": "datum.panel === 'f_sr'"}], "mark": {"type": "line", "color": "#111111", "strokeWidth": 1.5, "strokeDash": [5, 3]},
             "encoding": {
               "x": {"field": "x", "type": "quantitative", "axis": null},
               "y": {"field": "y", "type": "quantitative", "axis": null}}}
          ]
        }
      ]
    },
    {
      "title": {"text": "Grassland", "orient": "left", "anchor": "middle", "fontSize": 16, "offset": 6, "dx": 18},
      "spacing": 8,
      "hconcat": [
        {
          "spacing": 24,
          "hconcat": [
            {
              "width": 147, "height": 136,
              "resolve": {"axis": {"x": "independent", "y": "independent"}},
              "layer": [
                {"data": {"name": "g_vs"}, "mark": {"type": "point", "filled": true, "shape": "circle", "size": 30, "fill": "#c6c6c6", "stroke": "#777777", "strokeWidth": 0.8, "opacity": 1},
                 "encoding": {
                   "x": {"field": "sm", "type": "quantitative", "scale": {"domain": [0, 0.6], "nice": false}, "axis": {"orient": "bottom", "title": "SM", "values": [0, 0.2, 0.4, 0.6], "format": "~f", "tickSize": 0, "labelPadding": 5}},
                   "y": {"field": "vv", "type": "quantitative", "scale": {"domain": [-16, 0], "nice": false}, "axis": {"orient": "left", "title": "VV", "values": [-16, -14, -12, -10, -8, -6, -4, -2, 0], "format": "~f"}}}},
                {"data": {"values": [{}]}, "mark": {"type": "text", "text": "R² = 0.3365", "align": "right", "baseline": "bottom", "dx": -3, "dy": -4, "fontSize": 8.5, "fontWeight": "bold", "color": "#222222"},
                 "encoding": {"x": {"datum": 0.6, "type": "quantitative", "axis": null}, "y": {"datum": -16, "type": "quantitative", "axis": null}}},
                {"data": {"name": "trends"}, "transform": [{"filter": "datum.panel === 'g_vs'"}], "mark": {"type": "line", "color": "#111111", "strokeWidth": 1.5, "strokeDash": [5, 3]},
                 "encoding": {
                   "x": {"field": "x", "type": "quantitative", "axis": {"orient": "top", "labels": false, "title": null, "tickSize": 3, "values": [0, 0.2, 0.4, 0.6]}},
                   "y": {"field": "y", "type": "quantitative", "axis": null}}}
              ]
            },
            {
              "width": 147, "height": 136,
              "resolve": {"axis": {"x": "independent", "y": "independent"}},
              "layer": [
                {"data": {"name": "g_vr"}, "mark": {"type": "point", "filled": true, "shape": "circle", "size": 30, "fill": "#c6c6c6", "stroke": "#777777", "strokeWidth": 0.8, "opacity": 1},
                 "encoding": {
                   "x": {"field": "rvi", "type": "quantitative", "scale": {"domain": [0, 1.5], "nice": false}, "axis": {"orient": "bottom", "title": "RVI", "values": [0, 0.5, 1, 1.5], "format": "~f", "tickSize": 0, "labelPadding": 5}},
                   "y": {"field": "vv", "type": "quantitative", "scale": {"domain": [-16, 0], "nice": false}, "axis": {"orient": "left", "title": "VV", "values": [-16, -14, -12, -10, -8, -6, -4, -2, 0], "format": "~f"}}}},
                {"data": {"values": [{}]}, "mark": {"type": "text", "text": "R² = 0.3551", "align": "right", "baseline": "bottom", "dx": -3, "dy": -4, "fontSize": 8.5, "fontWeight": "bold", "color": "#222222"},
                 "encoding": {"x": {"datum": 1.5, "type": "quantitative", "axis": null}, "y": {"datum": -16, "type": "quantitative", "axis": null}}},
                {"data": {"name": "trends"}, "transform": [{"filter": "datum.panel === 'g_vr'"}], "mark": {"type": "line", "color": "#111111", "strokeWidth": 1.5, "strokeDash": [5, 3]},
                 "encoding": {
                   "x": {"field": "x", "type": "quantitative", "axis": {"orient": "top", "labels": false, "title": null, "tickSize": 3, "values": [0, 0.5, 1, 1.5]}},
                   "y": {"field": "y", "type": "quantitative", "axis": null}}}
              ]
            }
          ]
        },
        {
          "width": 147, "height": 136,
          "resolve": {"axis": {"x": "independent", "y": "independent"}},
          "layer": [
            {"data": {"name": "g_sr"}, "mark": {"type": "point", "filled": true, "shape": "circle", "size": 30, "fill": "#c6c6c6", "stroke": "#777777", "strokeWidth": 0.8, "opacity": 1},
             "encoding": {
               "x": {"field": "rvi", "type": "quantitative", "scale": {"domain": [0, 1.5], "nice": false}, "axis": {"orient": "bottom", "title": "RVI", "values": [0, 0.5, 1, 1.5], "format": "~f"}},
               "y": {"field": "sm", "type": "quantitative", "scale": {"domain": [0, 0.6], "nice": false}, "axis": {"orient": "left", "title": "SM", "values": [0, 0.1, 0.2, 0.3, 0.4, 0.5, 0.6], "format": "~f"}}}},
            {"data": {"values": [{}]}, "mark": {"type": "text", "text": "R² = 0.2336", "align": "right", "baseline": "bottom", "dx": -3, "dy": -4, "fontSize": 8.5, "fontWeight": "bold", "color": "#222222"},
             "encoding": {"x": {"datum": 1.5, "type": "quantitative", "axis": null}, "y": {"datum": 0, "type": "quantitative", "axis": null}}},
            {"data": {"name": "trends"}, "transform": [{"filter": "datum.panel === 'g_sr'"}], "mark": {"type": "line", "color": "#111111", "strokeWidth": 1.5, "strokeDash": [5, 3]},
             "encoding": {
               "x": {"field": "x", "type": "quantitative", "axis": null},
               "y": {"field": "y", "type": "quantitative", "axis": null}}}
          ]
        }
      ]
    }
  ],
  "config": {
    "font": "Liberation Sans",
    "locale": {"number": {"decimal": ".", "thousands": ",", "grouping": [3], "currency": ["$", ""], "minus": "-"}},
    "view": {"stroke": "#8c8c8c", "strokeWidth": 1},
    "axis": {
      "grid": false, "domain": false,
      "labelFont": "Liberation Sans", "labelFontSize": 9, "labelFontWeight": "bold", "labelColor": "#333333",
      "labelFlush": false, "labelOverlap": false, "labelPadding": 2,
      "tickColor": "#666666", "tickSize": 3,
      "titleFont": "Liberation Sans", "titleFontSize": 9, "titleFontWeight": "bold", "titleColor": "#333333", "titlePadding": 5
    },
    "title": {"font": "Noto Sans", "fontSize": 15, "fontWeight": "bold", "color": "#111111"}
  }
}
